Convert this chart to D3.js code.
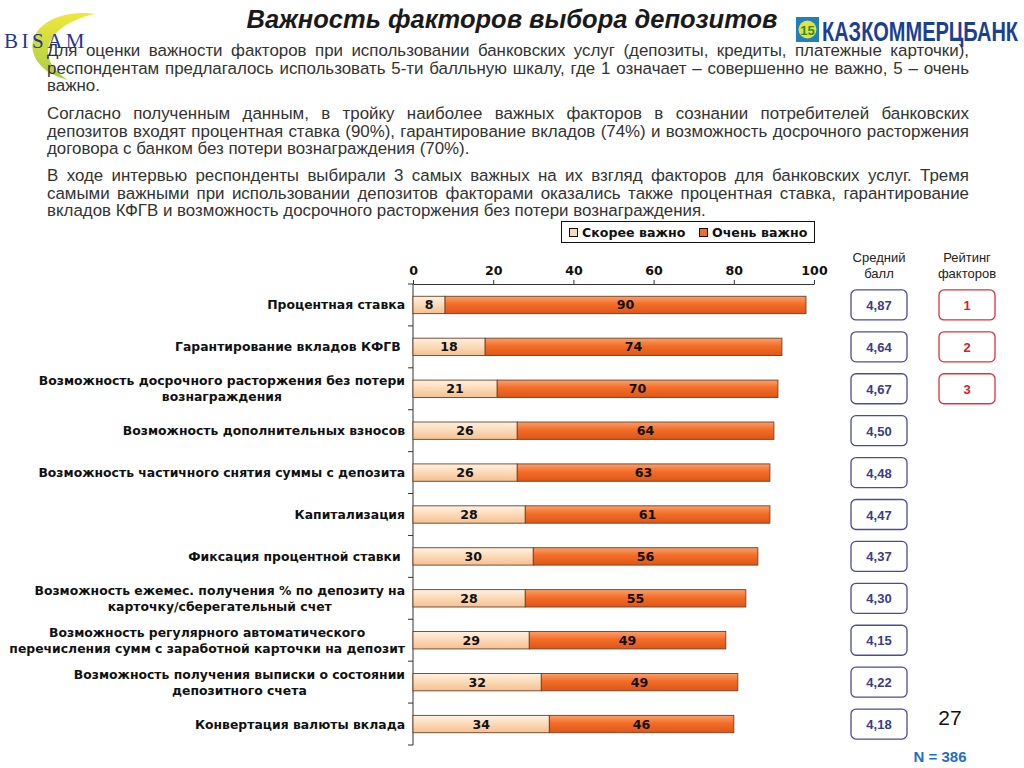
<!DOCTYPE html>
<html lang="ru">
<head>
<meta charset="UTF-8">
<title>Важность факторов выбора депозитов</title>
<script src="https://d3js.org/d3.v7.min.js"></script>
<style>
    body { margin: 0; background: #ffffff; }
    svg { display: block; }
    .para { font-family: "Liberation Sans", Arial, sans-serif; font-size: 16.9px; fill: #333333; }
    .lbl { font-family: "DejaVu Sans", Verdana, sans-serif; font-weight: bold; font-size: 12.4px; fill: #111; white-space: pre; }
    .val { font-family: "DejaVu Sans", Verdana, sans-serif; font-weight: bold; font-size: 12.6px; fill: #111; }
</style>
</head>
<body>
<svg id="chart" width="1024" height="768"></svg>
<script>
// chart data
const categories = [
    ["Процентная ставка"],
    ["Гарантирование вкладов КФГВ "],
    ["Возможность досрочного расторжения без потери", "вознаграждения"],
    ["Возможность дополнительных взносов"],
    ["Возможность частичного снятия суммы с депозита"],
    ["Капитализация"],
    ["Фиксация процентной ставки "],
    ["Возможность ежемес. получения % по депозиту на", "карточку/сберегательный счет"],
    ["Возможность регулярного автоматического", "перечисления сумм с заработной карточки на депозит"],
    ["Возможность получения выписки о состоянии", "депозитного счета"],
    ["Конвертация валюты вклада"]
];
const ratherImportant = [8, 18, 21, 26, 26, 28, 30, 28, 29, 32, 34];
const veryImportant = [90, 74, 70, 64, 63, 61, 56, 55, 49, 49, 46];
const avgScore = ["4,87", "4,64", "4,67", "4,50", "4,48", "4,47", "4,37", "4,30", "4,15", "4,22", "4,18"];
const ranking = ["1", "2", "3"];
const seriesNames = ["Скорее важно", "Очень важно"];
const xTicks = [0, 20, 40, 60, 80, 100];

const paragraphs = [
    ["Для оценки важности факторов при использовании банковских услуг (депозиты, кредиты, платежные карточки),",
     "респондентам предлагалось использовать 5-ти балльную шкалу, где 1 означает – совершенно не важно, 5 – очень",
     "важно."],
    ["Согласно полученным данным, в тройку наиболее важных факторов в сознании потребителей банковских",
     "депозитов входят процентная ставка (90%), гарантирование вкладов (74%) и возможность досрочного расторжения",
     "договора с банком без потери вознаграждения (70%)."],
    ["В ходе интервью респонденты выбирали 3 самых важных на их взгляд факторов для банковских услуг. Тремя",
     "самыми важными при использовании депозитов факторами оказались также процентная ставка, гарантирование",
     "вкладов КФГВ и возможность досрочного расторжения без потери вознаграждения."]
];

const svg = d3.select("#chart");
const defs = svg.append("defs");

function vGrad(id, stops) {
    const g = defs.append("linearGradient").attr("id", id)
        .attr("x1", 0).attr("y1", 0).attr("x2", 0).attr("y2", 1);
    stops.forEach(s => g.append("stop").attr("offset", s[0]).attr("stop-color", s[1]));
}
vGrad("gLight", [[0, "#fff1e2"], [0.5, "#fcd9b6"], [1, "#f4c092"]]);
vGrad("gOrange", [[0, "#fca06a"], [0.45, "#f36d28"], [1, "#de5618"]]);
vGrad("gBisam", [[0, "#f0e83a"], [1, "#a8cc48"]]);

// ---- logos ----
const bisam = svg.append("g");
bisam.append("path")
    .attr("d", "M96,14 C55,8 25,30 34,55 C39,68 52,76 68,80 C52,70 44,56 50,42 C57,28 74,18 96,14 Z")
    .attr("fill", "url(#gBisam)");
bisam.append("text").attr("x", 4).attr("y", 48)
    .attr("font-family", "Liberation Serif, serif").attr("font-size", 21)
    .attr("letter-spacing", 3.5).attr("fill", "#2b3590").text("BISAM");

const kkb = svg.append("g");
kkb.append("rect").attr("x", 796).attr("y", 17).attr("width", 23).attr("height", 25).attr("fill", "#1f7fbf");
kkb.append("circle").attr("cx", 807.5).attr("cy", 29.5).attr("r", 9).attr("fill", "#e6e236");
kkb.append("text").attr("x", 807.5).attr("y", 34.5).attr("text-anchor", "middle")
    .attr("font-family", "Liberation Sans, Arial").attr("font-weight", "bold").attr("font-size", 13)
    .attr("fill", "#2a8a3a").text("15");
kkb.append("text").attr("x", 822).attr("y", 41)
    .attr("font-family", "Liberation Sans Narrow, Liberation Sans, Arial").attr("font-weight", "bold")
    .attr("font-size", 27).attr("textLength", 196).attr("lengthAdjust", "spacingAndGlyphs")
    .attr("fill", "#1b3f94").text("КАЗКОММЕРЦБАНК");

// ---- title ----
svg.append("text").attr("x", 512).attr("y", 28).attr("text-anchor", "middle")
    .attr("font-family", "Liberation Sans, Arial").attr("font-weight", "bold").attr("font-style", "italic")
    .attr("font-size", 25.5).attr("fill", "#1a1a1a").text("Важность факторов выбора депозитов");

// ---- justified paragraphs ----
const textLeft = 47, textRight = 969;
const paraTops = [56, 119, 181];
paragraphs.forEach((lines, pi) => {
    lines.forEach((line, li) => {
        const t = svg.append("text").attr("class", "para")
            .attr("x", textLeft).attr("y", paraTops[pi] + li * 17.5).text(line);
        if (li < lines.length - 1) {
            const w = t.node().getComputedTextLength();
            const spaces = (line.match(/ /g) || []).length;
            t.attr("word-spacing", (textRight - textLeft - w) / spaces);
        }
    });
});

// ---- bar chart ----
const x = d3.scaleLinear().domain([0, 100]).range([413, 814]);
const y = d3.scaleBand().domain(d3.range(categories.length)).range([284, 745])
    .paddingInner(0.6).paddingOuter(0.3);

const axisColor = "#333";
// top axis
const xAxis = svg.append("g").attr("transform", "translate(0,284)")
    .call(d3.axisTop(x).tickValues(xTicks).tickSize(4).tickSizeOuter(0).tickPadding(6));
xAxis.select(".domain").attr("stroke", axisColor);
xAxis.selectAll(".tick line").attr("stroke", axisColor);
xAxis.selectAll(".tick text").attr("class", "val").attr("font-size", null).attr("font-family", null)
    .attr("fill", "#111").attr("y", -9);

// left axis line with ticks between categories
const step = y.step();
const bandEdges = d3.range(categories.length + 1).map(i => 284 + i * step);
svg.append("line").attr("x1", 413).attr("x2", 413).attr("y1", 284).attr("y2", 745).attr("stroke", axisColor);
svg.selectAll(".ytick").data(bandEdges).join("line")
    .attr("x1", 408).attr("x2", 413).attr("y1", d => d).attr("y2", d => d).attr("stroke", axisColor);

const rows = d3.range(categories.length);
const bh = y.bandwidth() + 0.6;
const barTop = i => y(i) + y.bandwidth() / 2 - bh / 2;

svg.selectAll(".barL").data(rows).join("rect")
    .attr("x", x(0)).attr("y", barTop)
    .attr("width", i => x(ratherImportant[i]) - x(0)).attr("height", bh)
    .attr("fill", "url(#gLight)").attr("stroke", "#6b4226").attr("stroke-width", 0.9);
svg.selectAll(".barO").data(rows).join("rect")
    .attr("x", i => x(ratherImportant[i])).attr("y", barTop)
    .attr("width", i => x(ratherImportant[i] + veryImportant[i]) - x(ratherImportant[i])).attr("height", bh)
    .attr("fill", "url(#gOrange)").attr("stroke", "#6b4226").attr("stroke-width", 0.9);

const cy = i => y(i) + y.bandwidth() / 2;
svg.selectAll(".vL").data(rows).join("text").attr("class", "val")
    .attr("x", i => (x(0) + x(ratherImportant[i])) / 2).attr("y", i => cy(i) + 4.5)
    .attr("text-anchor", "middle").text(i => ratherImportant[i]);
svg.selectAll(".vO").data(rows).join("text").attr("class", "val")
    .attr("x", i => (x(ratherImportant[i]) + x(ratherImportant[i] + veryImportant[i])) / 2)
    .attr("y", i => cy(i) + 4.5).attr("text-anchor", "middle").text(i => veryImportant[i]);

// category labels: block right-aligned, lines centered within block
rows.forEach(i => {
    const lines = categories[i];
    const g = svg.append("g");
    const ts = lines.map((l, k) => g.append("text").attr("class", "lbl")
        .attr("y", cy(i) + 4.5 + (k - (lines.length - 1) / 2) * 16).text(l));
    const maxW = d3.max(ts, t => t.node().getComputedTextLength());
    const cx = 405 - maxW / 2;
    ts.forEach(t => t.attr("x", cx).attr("text-anchor", "middle"));
});

// legend
const lg = svg.append("g");
lg.append("rect").attr("x", 561.5).attr("y", 221.5).attr("width", 253).attr("height", 21)
    .attr("fill", "#fff").attr("stroke", "#111");
const legX = [569, 699];
const legFill = ["#fcd9b6", "#f36d28"];
seriesNames.forEach((s, k) => {
    lg.append("rect").attr("x", legX[k] + 0.5).attr("y", 228.5).attr("width", 8).attr("height", 8)
        .attr("fill", legFill[k]).attr("stroke", "#111");
    lg.append("text").attr("class", "val").attr("x", legX[k] + 13).attr("y", 237).text(s);
});

// side headers
const hdr = (xc, l1, l2) => {
    [l1, l2].forEach((l, k) => svg.append("text").attr("x", xc).attr("y", 262 + k * 16)
        .attr("text-anchor", "middle").attr("font-family", "Liberation Sans, Arial")
        .attr("font-size", 13).attr("fill", "#222").text(l));
};
hdr(879, "Средний", "балл");
hdr(967, "Рейтинг", "факторов");

// score boxes
svg.selectAll(".sbox").data(rows).join("rect")
    .attr("x", 851).attr("y", i => cy(i) - 15).attr("width", 56).attr("height", 30).attr("rx", 5)
    .attr("fill", "#fff").attr("stroke", "#4b4b9c").attr("stroke-width", 1.3);
svg.selectAll(".stxt").data(rows).join("text")
    .attr("x", 879).attr("y", i => cy(i) + 5).attr("text-anchor", "middle")
    .attr("font-family", "Liberation Sans, Arial").attr("font-weight", "bold").attr("font-size", 13)
    .attr("fill", "#3b3b8a").text(i => avgScore[i]);

// ranking boxes
svg.selectAll(".rbox").data(ranking).join("rect")
    .attr("x", 939).attr("y", (d, i) => cy(i) - 15).attr("width", 56).attr("height", 30).attr("rx", 5)
    .attr("fill", "#fff").attr("stroke", "#e0303c").attr("stroke-width", 1.3);
svg.selectAll(".rtxt").data(ranking).join("text")
    .attr("x", 967).attr("y", (d, i) => cy(i) + 5).attr("text-anchor", "middle")
    .attr("font-family", "Liberation Sans, Arial").attr("font-weight", "bold").attr("font-size", 13)
    .attr("fill", "#d8202a").text(d => d);

// page number and sample size
svg.append("text").attr("x", 950).attr("y", 725).attr("text-anchor", "middle")
    .attr("font-family", "Liberation Sans, Arial").attr("font-size", 21).attr("fill", "#111").text("27");
svg.append("text").attr("x", 940).attr("y", 762).attr("text-anchor", "middle")
    .attr("font-family", "Liberation Sans, Arial").attr("font-weight", "bold").attr("font-size", 15)
    .attr("fill", "#1f6fc4").text("N = 386");
</script>
</body>
</html>
